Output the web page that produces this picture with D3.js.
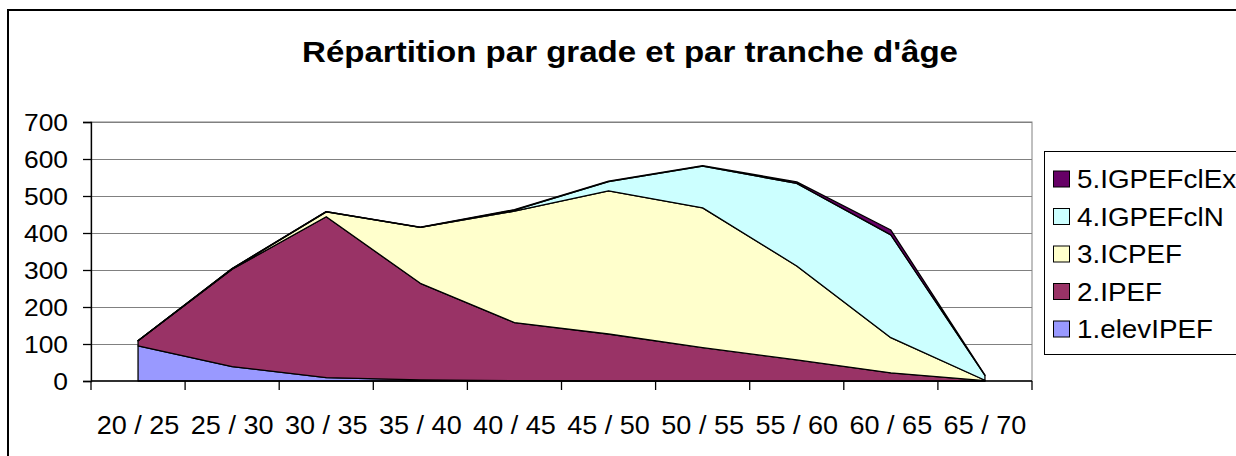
<!DOCTYPE html>
<html>
<head>
<meta charset="utf-8">
<script src="https://cdn.jsdelivr.net/npm/d3@7/dist/d3.min.js"></script>
<style>
  html, body { margin: 0; padding: 0; background: #fff; }
  svg { display: block; font-family: "Liberation Sans", Arial, sans-serif; }
</style>
</head>
<body>
<svg id="chart" width="1236" height="456"></svg>
<script>
const categories = ["20 / 25","25 / 30","30 / 35","35 / 40","40 / 45","45 / 50","50 / 55","55 / 60","60 / 65","65 / 70"];
const seriesNames = ["1.elevIPEF","2.IPEF","3.ICPEF","4.IGPEFclN","5.IGPEFclEx"];
const elevIPEF   = [95, 39, 9, 3, 1, 0, 0, 0, 0, 0];
const IPEF       = [14, 263, 435, 261, 157, 127, 90, 57, 22, 1];
const ICPEF      = [0, 1, 13, 151, 301, 387, 378, 254, 95, 1];
const IGPEFclN   = [0, 1, 1, 0, 3, 25, 113, 223, 278, 13];
const IGPEFclEx  = [0, 0, 0, 1, 1, 1, 1, 4, 13, 1];
const yTicks = [0, 100, 200, 300, 400, 500, 600, 700];
const colors = ["#9999FF", "#993366", "#FFFFCC", "#CCFFFF", "#660066"];
const title = "Répartition par grade et par tranche d'âge";

const seriesValues = [elevIPEF, IPEF, ICPEF, IGPEFclN, IGPEFclEx];
const rows = categories.map((c, i) => {
  const r = { cat: c };
  seriesNames.forEach((n, k) => r[n] = seriesValues[k][i]);
  return r;
});

const svg = d3.select("#chart");

function stretchedText(parent, x, y, str, size, sx, anchor, weight) {
  const g = parent.append("g").attr("transform", `translate(${x},${y}) scale(${sx},1)`);
  g.append("text").attr("x", 0).attr("y", 0)
    .attr("text-anchor", anchor).attr("font-size", size)
    .attr("font-weight", weight || "normal").attr("fill", "#000").text(str);
  return g;
}

// outer chart border
svg.append("rect").attr("x", 8).attr("y", 10).attr("width", 1300).attr("height", 500)
  .attr("fill", "#fff").attr("stroke", "#000").attr("stroke-width", 2);

const plotL = 91, plotR = 1032, plotT = 122, plotB = 381;
const x = d3.scaleBand().domain(categories).range([plotL, plotR]);
const y = d3.scaleLinear().domain([0, 700]).range([plotB, plotT]);

svg.append("rect").attr("x", plotL).attr("y", plotT).attr("width", plotR - plotL).attr("height", plotB - plotT)
  .attr("fill", "none").attr("stroke", "#808080").attr("stroke-width", 1);

svg.append("g").selectAll("line").data(yTicks.filter(d => d > 0)).join("line")
  .attr("x1", plotL).attr("x2", plotR)
  .attr("y1", d => Math.round(y(d)) + 0.5).attr("y2", d => Math.round(y(d)) + 0.5)
  .attr("stroke", "#808080").attr("stroke-width", 1.2);

const stacked = d3.stack().keys(seriesNames)(rows);
const cx = d => x(d.data.cat) + x.bandwidth() / 2;
const area = d3.area().x(cx).y0(d => y(d[0])).y1(d => y(d[1]));

svg.append("g").selectAll("path").data(stacked).join("path")
  .attr("d", area)
  .attr("fill", (d, i) => colors[i])
  .attr("stroke", "#000").attr("stroke-width", 1.3).attr("stroke-linejoin", "round");

const yAxis = d3.axisLeft(y).tickValues(yTicks).tickSize(8).tickFormat(() => "");
const gy = svg.append("g").attr("transform", `translate(${plotL},0)`).call(yAxis);
gy.select(".domain").attr("stroke", "#000").attr("stroke-width", 1.3);
gy.selectAll(".tick line").attr("stroke", "#000").attr("stroke-width", 1.3);
const yLab = svg.append("g");
yTicks.forEach(t => stretchedText(yLab, 68, y(t) + 8.5, d3.format("d")(t), 24, 1.1, "end"));

const tickPos = categories.map(c => x(c)).concat([plotR]);
svg.append("line").attr("x1", plotL).attr("x2", plotR).attr("y1", plotB).attr("y2", plotB)
  .attr("stroke", "#000").attr("stroke-width", 1.3);
svg.append("g").selectAll("line").data(tickPos).join("line")
  .attr("x1", d => d).attr("x2", d => d).attr("y1", plotB).attr("y2", plotB + 9)
  .attr("stroke", "#000").attr("stroke-width", 1.3);
const xLab = svg.append("g");
categories.forEach(c => stretchedText(xLab, x(c) + x.bandwidth() / 2, 434, c, 26, 1.04, "middle"));

stretchedText(svg, 630, 62, title, 29, 1.14, "middle", "bold");

const lg = svg.append("g");
lg.append("rect").attr("x", 1044.5).attr("y", 151.5).attr("width", 260).attr("height", 203)
  .attr("fill", "#fff").attr("stroke", "#000").attr("stroke-width", 1);
const legendItems = seriesNames.map((n, i) => ({ n, c: colors[i] })).reverse();
legendItems.forEach((d, i) => {
  const cy = 179 + i * 37.5;
  lg.append("rect").attr("x", 1053.5).attr("y", cy - 8).attr("width", 16).attr("height", 16)
    .attr("fill", d.c).attr("stroke", "#000").attr("stroke-width", 1);
  stretchedText(lg, 1077, cy + 9, d.n, 26, 1.07, "start");
});
</script>
</body>
</html>
